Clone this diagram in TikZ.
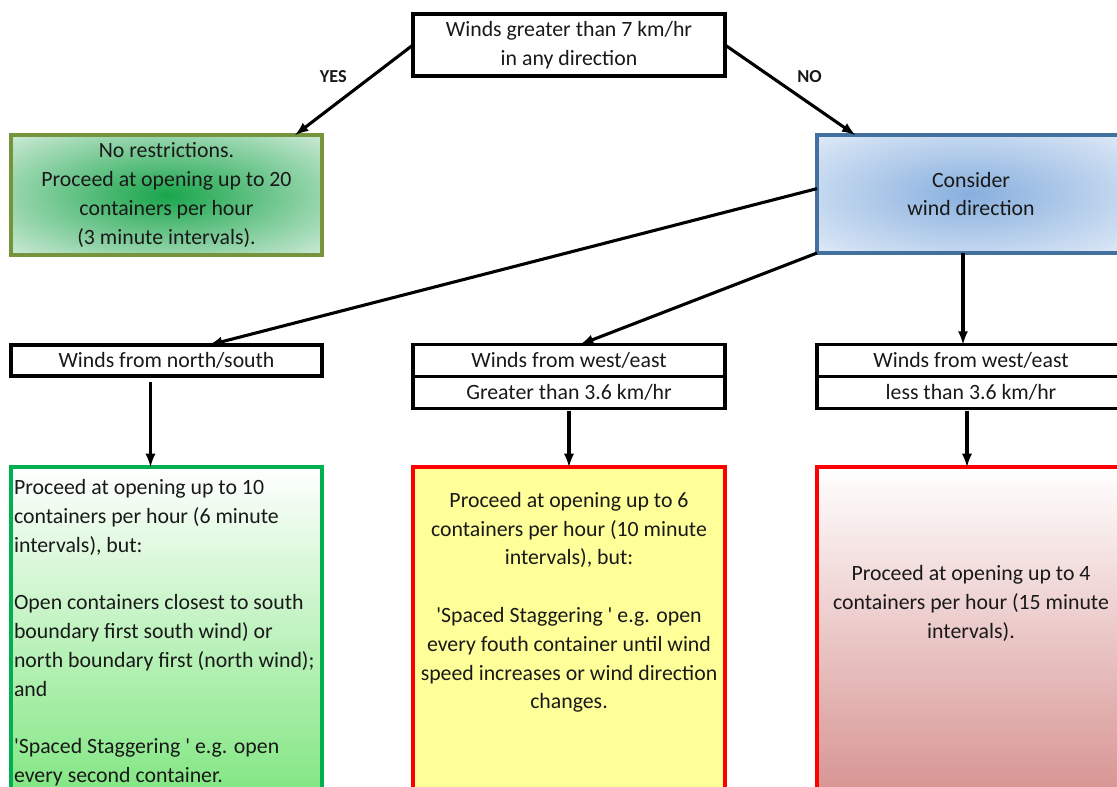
\documentclass[tikz,border=0pt]{standalone}
\usepackage{fontspec}
\setmainfont{Carlito}
\usetikzlibrary{positioning}

\definecolor{olivebrd}{RGB}{119,147,60}
\definecolor{bluebrd}{RGB}{65,113,156}
\definecolor{greenbrd}{RGB}{0,176,80}
\definecolor{glowgreen}{RGB}{25,165,75}
\definecolor{glowgreenout}{RGB}{238,247,240}
\definecolor{glowblue}{RGB}{135,175,222}
\definecolor{glowblueout}{RGB}{244,248,253}
\definecolor{softyellow}{RGB}{255,255,153}
\definecolor{paleRed}{RGB}{214,146,144}
\definecolor{paleGreen}{RGB}{128,230,128}

\pgfdeclareradialshading{greenglow}{\pgfpoint{0bp}{0bp}}{color(0bp)=(glowgreen); color(42bp)=(glowgreenout); color(50bp)=(glowgreenout)}
\pgfdeclareradialshading{blueglow}{\pgfpoint{0bp}{0bp}}{color(0bp)=(glowblue); color(44bp)=(glowblueout); color(50bp)=(glowblueout)}

\begin{document}
\begin{tikzpicture}[x=0.025cm,y=-0.025cm,>=latex,
  box/.style={draw,line width=2.3pt,outer sep=0pt,inner sep=0pt,align=center,
    font=\fontsize{15.5pt}{20.5pt}\selectfont,text=black!90},
  txt/.style={inner sep=0pt,font=\fontsize{15.5pt}{20.5pt}\selectfont,text=black!90},
  lbl/.style={font=\fontsize{13pt}{15pt}\selectfont\bfseries,text=black!90},
  arr/.style={->,line width=2.2pt}]
\useasboundingbox (0,0) rectangle (1117,787);

% question
\node[box,minimum width=7.8cm,minimum height=1.55cm] (wind) at (569,45) {Winds greater than 7 km/hr\\in any direction};

% first answers
\node[box,draw=olivebrd,shade,shading=greenglow,minimum width=7.775cm,minimum height=3cm] (norestr) at (166.5,195) {No restrictions.\\Proceed at opening up to 20\\containers per hour\\(3 minute intervals).};
\node[box,draw=bluebrd,shade,shading=blueglow,minimum width=7.7cm,minimum height=2.95cm] (cons) at (971,194) {Consider\\wind direction};

\draw[arr] (wind.west) -- node[lbl,above left=1pt] {YES} (norestr.25);
\draw[arr] (wind.east) -- node[lbl,above right=1pt] {NO} (cons.153);

% wind directions
\node[box,minimum width=7.775cm,minimum height=0.775cm] (ns) at (166.5,360.5) {Winds from north/south};
\node[box,minimum width=7.8cm,minimum height=0.8cm] (wetop) at (569,360.5) {Winds from west/east};
\node[box,minimum width=7.8cm,minimum height=0.8cm,below=0pt of wetop] (wegt) {Greater than 3.6 km/hr};
\node[box,minimum width=7.7cm,minimum height=0.8cm] (wetop2) at (971,360.5) {Winds from west/east};
\node[box,minimum width=7.7cm,minimum height=0.8cm,below=0pt of wetop2] (welt) {less than 3.6 km/hr};

\draw[arr] (cons.178) -- (ns.20);
\draw[arr] (cons.south west) -- (wetop.55);
\draw[arr] ([xshift=-0.2cm]cons.south) -- ([xshift=-0.2cm]wetop2.north);

% actions
\node[box,draw=greenbrd,top color=white,bottom color=paleGreen,minimum width=7.775cm,minimum height=8.325cm] (nsact) at (166.5,633.5) {};
\node[box,draw=red,fill=softyellow,minimum width=7.8cm,minimum height=8.325cm] (gtact) at (569,633.5) {};
\node[box,draw=red,top color=white,bottom color=paleRed,minimum width=7.7cm,minimum height=8.325cm] (ltact) at (971,633.5) {};

\node[txt,align=left,anchor=north west] (nstxt) at ([xshift=0.07cm,yshift=-0.3cm]nsact.north west) {Proceed at opening up to 10\\containers per hour (6 minute\\intervals), but:\\[20.5pt]Open containers closest to south\\boundary first south wind) or\\north boundary first (north wind);\\and\\[20.5pt]\textquotesingle Spaced Staggering \textquotesingle\ e.g. open\\every second container.};
\node[txt,align=center,anchor=north] (gttxt) at ([yshift=-0.62cm]gtact.north) {Proceed at opening up to 6\\containers per hour (10 minute\\intervals), but:\\[20.5pt]\textquotesingle Spaced Staggering \textquotesingle\ e.g. open\\every fouth container until wind\\speed increases or wind direction\\changes.};
\node[txt,align=center,anchor=north] (lttxt) at ([yshift=-2.45cm]ltact.north) {Proceed at opening up to 4\\containers per hour (15 minute\\intervals).};

\draw[arr] ([xshift=-0.4cm,yshift=-0.15cm]ns.south) -- ([xshift=-0.4cm]nsact.north);
\draw[arr] ([yshift=-0.05cm]wegt.south) -- (gtact.north);
\draw[arr] ([xshift=-0.1cm,yshift=-0.05cm]welt.south) -- ([xshift=-0.1cm]ltact.north);
\end{tikzpicture}
\end{document}
